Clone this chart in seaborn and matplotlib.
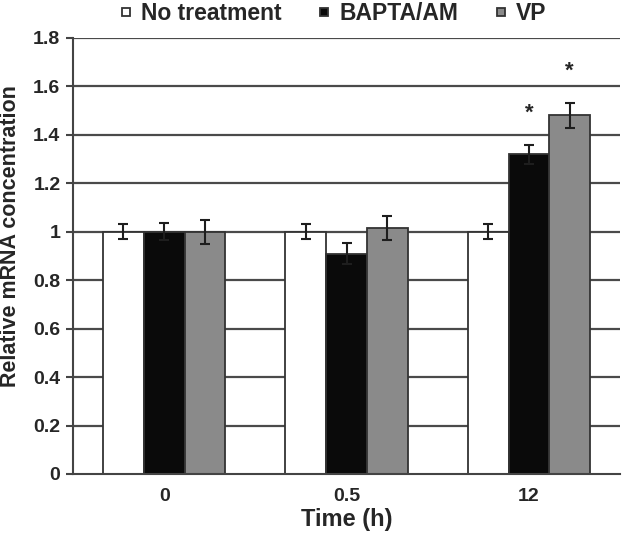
import matplotlib
matplotlib.use("Agg")
import matplotlib.pyplot as plt
import seaborn as sns
import pandas as pd
import numpy as np
from matplotlib.lines import Line2D

times = ["0", "0.5", "12"]
treatments = ["No treatment", "BAPTA/AM", "VP"]
no_treat = [1.00, 1.00, 1.00]
bapta = [1.00, 0.91, 1.32]
vp = [1.00, 1.015, 1.48]
no_treat_err = [0.03, 0.03, 0.03]
bapta_err = [0.035, 0.045, 0.04]
vp_err = [0.05, 0.05, 0.053]
colors = ["#ffffff", "#0a0a0a", "#8a8a8a"]

rows = []
for vals, errs, t in [(no_treat, no_treat_err, treatments[0]),
                      (bapta, bapta_err, treatments[1]),
                      (vp, vp_err, treatments[2])]:
    for tm, v, e in zip(times, vals, errs):
        rows.append({"Time": tm, "Treatment": t, "Value": v, "Err": e})
df = pd.DataFrame(rows)

sns.set_style("white")
plt.rcParams['font.family'] = ['Liberation Sans', 'DejaVu Sans']
plt.rcParams['font.weight'] = 'bold'

fig = plt.figure(figsize=(6.27, 5.42), dpi=100)
ax = fig.add_axes([0.1164, 0.1255, 0.8726, 0.8045])

for y in np.arange(0.2, 1.81, 0.2):
    ax.axhline(y, color="#4a4a4a", lw=1.6, zorder=0)

sns.barplot(data=df, x="Time", y="Value", hue="Treatment", order=times,
            hue_order=treatments, palette=colors, width=0.67, errorbar=None,
            edgecolor="#333333", linewidth=1.3, saturation=1, ax=ax, zorder=2)

# error bars
for i, t in enumerate(treatments):
    cont = ax.containers[i]
    sub = df[df.Treatment == t].set_index("Time").loc[times]
    xs = [p.get_x() + p.get_width() / 2 for p in cont.patches]
    ax.errorbar(xs, sub.Value.values, yerr=sub.Err.values, fmt="none",
                ecolor="#1e1e1e", elinewidth=1.5, capsize=3.6, capthick=1.5, zorder=3)

# asterisks
for i, (vals, errs) in enumerate([(bapta, bapta_err), (vp, vp_err)], start=1):
    p = ax.containers[i].patches[2]
    ax.text(p.get_x() + p.get_width() / 2, vals[2] + errs[2] + 0.13, "*",
            ha="center", va="center", fontsize=16, fontweight="bold")

ax.set_ylim(0, 1.8)
ax.set_xlim(-0.5, 2.5)
ax.set_yticks(np.arange(0, 1.81, 0.2))
ax.set_yticklabels(["0", "0.2", "0.4", "0.6", "0.8", "1", "1.2", "1.4", "1.6", "1.8"])
ax.set_xticks([0, 1, 2])
ax.set_xticklabels(times)
ax.set_xticks([0.5, 1.5], minor=True)
ax.tick_params(axis="x", which="major", length=0, labelsize=14, pad=10)
ax.tick_params(axis="x", which="minor", length=5, width=1.5, color="#444444", direction="out")
ax.tick_params(axis="y", length=5, width=1.5, color="#444444", direction="out", labelsize=14, pad=4)
ax.tick_params(axis="both", bottom=True, left=True)
for lbl in ax.get_xticklabels() + ax.get_yticklabels():
    lbl.set_fontweight("bold")

for s in ["top", "right"]:
    ax.spines[s].set_visible(False)
for s in ["left", "bottom"]:
    ax.spines[s].set_color("#444444")
    ax.spines[s].set_linewidth(1.5)

ax.set_xlabel("Time (h)", fontsize=17, fontweight="bold", labelpad=2)
ax.set_ylabel("Relative mRNA concentration", fontsize=15.5, fontweight="bold")
ax.yaxis.set_label_coords(-0.095, 0.545)

ax.legend_.remove()
handles = [Line2D([], [], marker="s", linestyle="none", markersize=6,
                  markerfacecolor=c, markeredgecolor="#333333", markeredgewidth=1.3)
           for c in colors]
fig.legend(handles, treatments, loc="upper center", bbox_to_anchor=(0.527, 1.035),
           ncol=3, frameon=False, prop={"weight": "bold", "size": 16.5},
           handletextpad=0.15, columnspacing=1.35, handlelength=1.0)

fig.savefig("out.png", dpi=100, facecolor="white")
